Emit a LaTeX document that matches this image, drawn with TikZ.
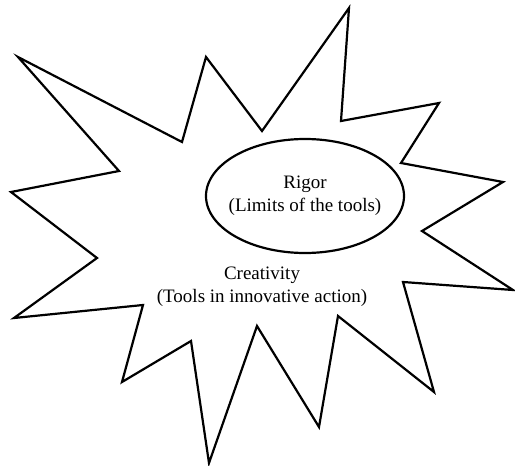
\documentclass[tikz,border=0pt]{standalone}
\usepackage{fontspec}
\setmainfont{Liberation Serif}
\usetikzlibrary{positioning,shapes.geometric}

\begin{document}
\begin{tikzpicture}[
    x=1pt, y=-1pt,
    star line/.style={draw=black, line width=2.2pt, line join=miter, miter limit=20},
    rigor node/.style={ellipse, draw=black, line width=2.2pt, minimum width=198pt, minimum height=114pt, inner sep=0pt},
    label node/.style={align=center, font=\fontsize{19}{23}\selectfont}
]
  \useasboundingbox (0,0) rectangle (515,466);
  % the jagged outline
  \draw[star line] (18,57) -- (182,142) -- (206,57) -- (262,131) -- (349,8)
    -- (341,121) -- (439,103) -- (401,163) -- (503,182) -- (422,231)
    -- (513,290) -- (403,282) -- (434,392) -- (338,316) -- (319,427)
    -- (257,326) -- (209,463) -- (191,341) -- (122,382) -- (143,305)
    -- (14,318) -- (97,258) -- (11,192) -- (119,171) -- cycle;

  \node[rigor node] (rigor) at (305,196) {};
  \node[label node] (rigor text) at (rigor.center) {Rigor\\(Limits of the tools)};
  \node[label node] (creativity) at (262,287) {Creativity\\(Tools in innovative action)};
\end{tikzpicture}
\end{document}
